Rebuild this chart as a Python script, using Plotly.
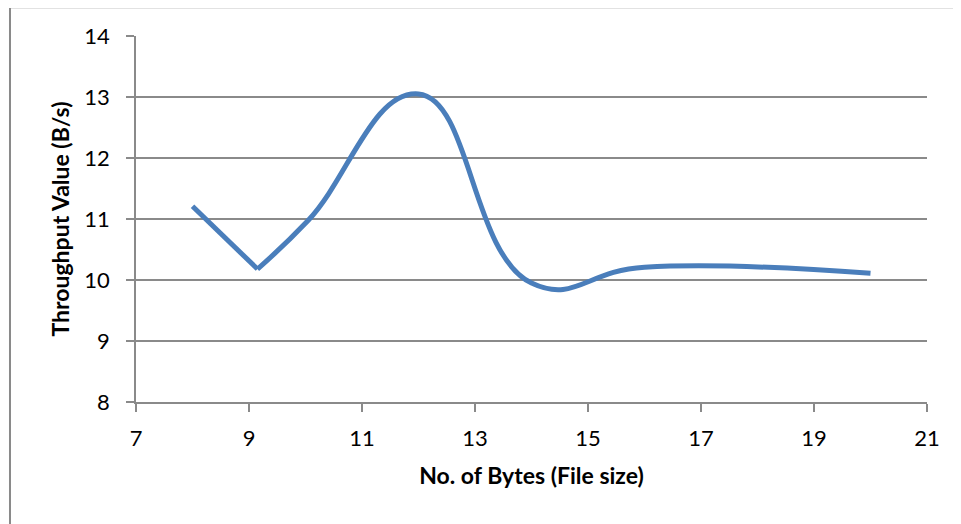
import plotly.graph_objects as go

file_size = [8, 9.15, 10.05, 12, 14, 16, 20]
throughput = [11.21, 10.18, 10.98, 13.05, 9.95, 10.21, 10.11]

x_ticks = [7, 9, 11, 13, 15, 17, 19, 21]
y_ticks = [8, 9, 10, 11, 12, 13, 14]

GRID = "#8a8a8a"
LINE = "#4a7ebb"
FONT = "Lato, 'Open Sans', sans-serif"

fig = go.Figure()
# straight first leg (sharp corner at the second point, as in the reference)
fig.add_trace(go.Scatter(
    x=file_size[:2], y=throughput[:2], mode="lines",
    line=dict(color=LINE, width=5), showlegend=False, hoverinfo="x+y",
))
fig.add_trace(go.Scatter(
    x=file_size[1:], y=throughput[1:], mode="lines",
    line=dict(color=LINE, width=5, shape="spline", smoothing=1.3),
    showlegend=False, hoverinfo="x+y",
))

fig.update_layout(
    width=961, height=524,
    margin=dict(l=128, r=42, t=28, b=130),
    paper_bgcolor="white", plot_bgcolor="white",
    font=dict(family=FONT, color="black", size=22),
    xaxis=dict(
        range=[7, 21], tickvals=x_ticks, showgrid=False,
        showline=True, linecolor=GRID, linewidth=1.5,
        ticks="outside", ticklen=8, tickcolor=GRID, tickwidth=1.5,
        tickfont=dict(size=22), ticklabelstandoff=8, zeroline=False,
        title=dict(text="<b>No. of Bytes (File size)</b>", font=dict(size=23), standoff=18),
    ),
    yaxis=dict(
        range=[8, 14], tickvals=y_ticks, showgrid=True, gridcolor=GRID, gridwidth=1.5,
        showline=True, linecolor=GRID, linewidth=1.5,
        ticks="outside", ticklen=8, tickcolor=GRID, tickwidth=1.5,
        tickfont=dict(size=22), ticklabelstandoff=12, zeroline=False,
        title=dict(text="<b>Throughput Value (B/s)</b>", font=dict(size=23), standoff=8),
    ),
    shapes=[
        dict(type="line", xref="paper", yref="paper", x0=-0.1593, x1=-0.1593, y0=1.0783, y1=-0.5,
             line=dict(color=GRID, width=2)),
        dict(type="line", xref="paper", yref="paper", x0=-0.1593, x1=1.2, y0=1.0783, y1=1.0783,
             line=dict(color=GRID, width=2)),
    ],
)

fig.write_html("out.html")
